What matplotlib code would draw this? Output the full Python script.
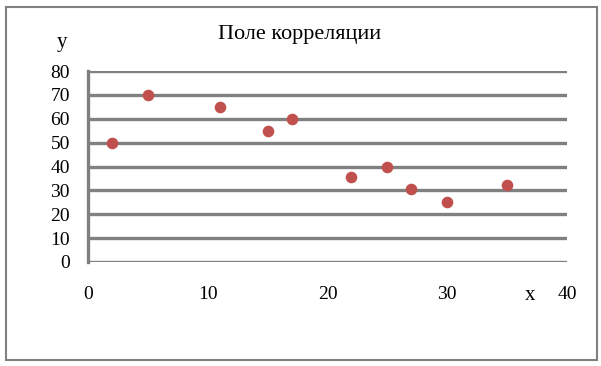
import matplotlib
matplotlib.use("Agg")
import matplotlib.pyplot as plt
import matplotlib.patches as patches

# data
x_vals = [2, 5, 11, 15, 17, 22, 25, 27, 30, 35]
y_vals = [50, 70, 65, 55, 60, 35.5, 40, 30.5, 25.3, 32.2]
x_ticks = [0, 10, 20, 30, 40]
y_ticks = [0, 10, 20, 30, 40, 50, 60, 70, 80]

plt.rcParams['font.family'] = ['Liberation Serif', 'DejaVu Serif']

fig = plt.figure(figsize=(6.01, 3.66), dpi=100)
fig.patch.set_facecolor('white')

# outer chart frame
rect = patches.Rectangle((6 / 601, 1 - 360 / 366), 591 / 601, 353 / 366,
                         transform=fig.transFigure, facecolor='none',
                         edgecolor='#808080', linewidth=1.5)
fig.patches.append(rect)

ax = fig.add_axes([88 / 601, 1 - 262 / 366, (567 - 88) / 601, (262 - 71) / 366])
ax.scatter(x_vals, y_vals, s=70, color='#C0504D', zorder=3, linewidths=0)

ax.set_xlim(0, 40)
ax.set_ylim(0, 80)
ax.set_xticks(x_ticks)
ax.set_yticks(y_ticks)
ax.tick_params(axis='both', length=0, labelsize=14)
ax.tick_params(axis='x', pad=17)
ax.tick_params(axis='y', pad=13)

ax.grid(axis='y', color='#808080', linewidth=2.4)
ax.set_axisbelow(True)
for s in ['top', 'right', 'bottom']:
    ax.spines[s].set_visible(False)
ax.spines['left'].set_color('#808080')
ax.spines['left'].set_linewidth(2.4)
ax.spines['left'].set_bounds(0, 80)

fig.text(300 / 601, 1 - 34 / 366, "Поле корреляции", ha='center', va='center', fontsize=16)
fig.text(62 / 601, 1 - 42 / 366, "y", ha='center', va='center', fontsize=15)
fig.text(530 / 601, 1 - 295 / 366, "x", ha='center', va='center', fontsize=15)

fig.savefig("out.png", dpi=100)
